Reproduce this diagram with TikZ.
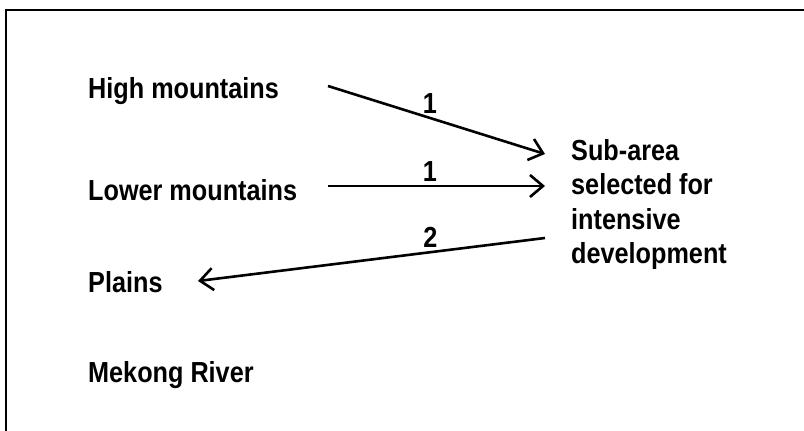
\documentclass[tikz,border=0pt]{standalone}
\usepackage{fontspec}
\setmainfont{Liberation Sans}[FakeStretch=0.87]
\usetikzlibrary{arrows.meta}

\tikzset{
	region/.style={anchor=base west, inner sep=0pt, font=\bfseries\fontsize{29}{34.5}\selectfont},
	flow/.style={line width=2.6pt, -{Straight Barb[length=13pt, width=22pt, line width=2.6pt]}},
	count/.style={inner sep=3pt, font=\bfseries\fontsize{29}{34.5}\selectfont}
}

\begin{document}
\begin{tikzpicture}[x=1pt, y=-1pt]
	\useasboundingbox (0,0) rectangle (804,431);
	% frame, cut off at right and bottom
	\draw[line width=2.6pt] (6,431) -- (6,10) -- (804,10);

\node[region] (high) at (88,98) {High mountains};
\node[region] (lower) at (88,200) {Lower mountains};
\node[region] (plains) at (88,292) {Plains};
\node[region] (mekong) at (88,382) {Mekong River};
\node[region, anchor=north west, align=left] (sub) at (571,139)
  {Sub-area\\selected for\\intensive\\development};

\coordinate (high-out) at (328,86);
\coordinate (sub-in1) at (545,154);
\coordinate (lower-out) at (328,186);
\coordinate (sub-in2) at (545,186);
\coordinate (sub-out) at (545,238);
\coordinate (plains-in) at (198,281);

\draw[flow] (high-out) -- node[count, pos=0.47, above] (n1) {1} (sub-in1);
\draw[flow] (lower-out) -- node[count, pos=0.47, above] (n2) {1} (sub-in2);
\draw[flow] (sub-out) -- node[count, pos=0.33, above] (n3) {2} (plains-in);
\end{tikzpicture}
\end{document}
